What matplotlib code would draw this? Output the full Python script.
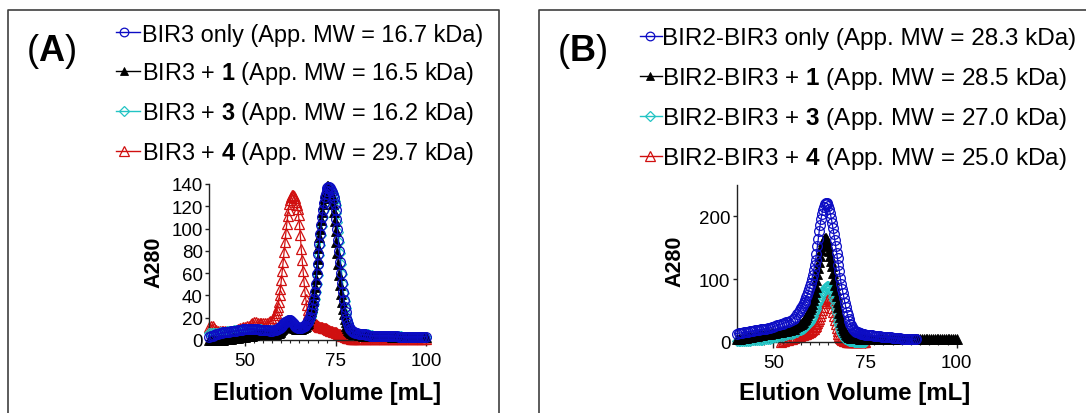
import numpy as np
import matplotlib
matplotlib.use("Agg")
import matplotlib.pyplot as plt
from matplotlib.lines import Line2D

plt.rcParams['font.family'] = ['Liberation Sans', 'DejaVu Sans']
plt.rcParams['mathtext.fontset'] = 'custom'
plt.rcParams['mathtext.rm'] = 'Liberation Sans'
plt.rcParams['mathtext.bf'] = 'Liberation Sans:bold'

nan = np.nan

# ---------------- Data: panel A (BIR3) ----------------
# elution volume grid (mL): coarse on the baseline, fine around the peaks
x_a = list(np.arange(40, 58.01, 0.5)) + list(np.arange(58.25, 80.01, 0.25)) + list(np.arange(80.5, 100.01, 0.5))

a_blue = ([3, 3.5, 4, 4.5, 5, 5.5, 6, 6.5, 7, 7, 7, 7.5, 8, 8, 8, 8.5, 9, 9, 9, 9.5,
           10, 10, 10, 10, 10, 10, 10, 9.5, 9, 9, 9, 9, 9, 9, 8, 8, 9] +
          [9, 9, 9.5, 10, 10.5, 11, 11.5, 12,
           13, 14, 15, 16, 16.5, 17, 17.5, 18,
           18, 18, 17, 16, 15, 14, 13, 12,
           11.5, 11, 11, 11, 11, 11, 11.5, 12,
           12.5, 13, 14, 15, 16, 17, 19, 21,
           24, 28, 32, 37, 43, 50, 59, 68,
           77, 86, 95, 103, 110, 117, 123, 128,
           131, 134, 136, 137, 137, 136, 135, 133,
           130, 127, 122, 117, 109, 100, 90, 80,
           70, 60, 51, 43, 36, 30, 25, 20,
           17, 14, 12, 10, 9, 8, 7.5, 7] +
          [6.5, 6, 5.5, 5, 5, 5, 4.5, 4.5, 4, 4] + [4] * 10 + [3.5] * 4 + [3] * 16)

a_black = ([0, 0, 0, 0, 0, 0, 0, 0, 0, 0.5, 1, 1, 1, 1.5, 2, 2, 2, 2.5, 3, 3,
            3, 3.5, 4, 4, 4, 4.5, 5, 5, 5, 5, 5, 5, 5, 5, 5, 5, 5] +
           [5, 5.5, 6, 6, 6.5, 7, 8, 9,
            10, 11, 12, 13, 14, 15, 15, 16,
            16, 15, 14, 13, 12, 11, 10.5, 10,
            10, 10, 10, 10, 10, 10, 10.5, 11,
            11.5, 12, 13, 14, 15.5, 17, 19.5, 22,
            26, 30, 35, 41, 48, 55, 64, 73,
            83, 92, 100, 108, 115, 122, 127, 132,
            135, 137, 138, 138, 136, 134, 131, 127,
            122, 115, 107, 98, 88, 78, 68, 58,
            49, 41, 34, 28, 23, 19, 16, 13,
            11, 9, 8, 7, 6.5, 6, 5.5, 5] +
           [5, 5, 4.5, 4.5, 4, 4, 4, 4, 4, 4] + [4] * 4 + [3.5] * 6 + [3] * 20)

a_cyan = ([6, 6, 6, 6, 6, 6.5, 7, 7, 7, 7.5, 8, 8, 8, 8.5, 9, 9, 9, 9, 9, 9.5,
           10, 10, 10, 10, 10, 10, 10, 10, 10, 9.5, 9, 9, 9, 9, 9, 9, 9] +
          [9, 9, 9.5, 10, 10.5, 11, 11.5, 12,
           13, 14, 15, 16, 16.5, 17, 17.5, 18,
           18, 18, 17.5, 17, 16, 15, 14, 13,
           12.5, 12, 11.5, 11, 11, 11, 11.5, 12,
           12.5, 13, 13.5, 14, 15, 16, 17.5, 19,
           21, 24, 28, 32, 37, 43, 50, 58,
           67, 76, 85, 94, 102, 110, 117, 123,
           127, 131, 133, 135, 136, 136, 135, 134,
           132, 129, 125, 121, 114, 106, 97, 88,
           78, 68, 59, 50, 42, 35, 29, 23,
           19, 15, 13, 11, 10, 9, 8, 7] +
          [6.5, 6, 5.5, 5, 5, 5, 5, 5, 4.5, 4.5] + [4] * 10 + [3.5] * 6 + [3] * 14)

a_red = ([12, 13, 13, 11, 9, 8.5, 8, 8, 8, 8, 8, 8, 8, 8.5, 9, 9, 10, 10.5, 11, 11.5,
          12, 12.5, 13, 14, 15, 16, 16, 15.5, 15, 15, 15, 15, 15, 16, 17, 18, 20] +
         [22, 24, 27, 30, 34, 40, 46, 54,
          62, 70, 79, 88, 96, 104, 111, 117,
          122, 126, 128, 130, 130, 129, 127, 124,
          121, 118, 112, 104, 94, 82, 72, 62,
          53, 44, 37, 31, 27, 23, 21, 19,
          18, 17, 16, 15, 14.5, 14, 13.5, 13,
          12.5, 12, 12, 12, 11.5, 11, 11, 11,
          10.5, 10, 9.5, 9, 9, 8.5, 8, 8,
          7.5, 7, 7, 7, 6.5, 6, 5.5, 5,
          5, 4.5, 4, 4, 3.5, 3, 3, 2.5,
          2, 2, 1.5, 1.5, 1, 1, 1, 1] +
         [0.5] * 40)

# ---------------- Data: panel B (BIR2-BIR3) ----------------
x_b = list(np.arange(40, 57.01, 0.5)) + list(np.arange(57.25, 75.01, 0.25)) + list(np.arange(75.5, 100.01, 0.5))

b_blue = ([13, 13.5, 14, 14.5, 15, 15.5, 16, 16.5, 17, 17.5, 18, 18.5, 19, 19.5, 20, 20.5,
           21, 21.5, 22, 23, 24, 25, 26, 27, 28, 29, 30, 31, 32, 33.5, 35, 37, 40, 44, 48] +
          [50, 53, 55, 58, 61, 64, 67, 71,
           75, 79, 84, 89, 94, 100, 107, 114,
           122, 130, 140, 152, 164, 176, 186, 196,
           204, 210, 215, 219, 221, 222, 220, 216,
           211, 205, 198, 190, 181, 172, 162, 152,
           142, 133, 122, 112, 102, 92, 84, 77,
           70, 62, 55, 48, 42, 37, 33, 29,
           26, 23, 21, 19, 17.5, 16, 15.5, 15,
           14.5, 14, 13.5, 13, 12.5, 12, 11.5, 11] +
          [10.5, 10, 10, 10, 9.5, 9, 9, 8.5, 8, 8, 7.5, 7, 7, 7, 6.5, 6, 6, 6, 5.5, 5,
           5, 5, 5, 4.5, 4.5, 4, 4, 4] + [nan] * 22)

b_black = ([4, 4.5, 5, 5.5, 6, 6.5, 7, 7.5, 8, 8.5, 9, 9.5, 10, 10.5, 11, 11.5, 12, 12.5,
            13, 13.5, 14, 14.5, 15, 15.5, 16, 16.5, 17, 17.5, 18, 19, 20, 21, 23, 25, 27] +
           [28, 29, 30.5, 32, 34, 36, 38, 40,
            42.5, 45, 48, 52, 56, 60, 66, 72,
            80, 88, 98, 108, 118, 127, 137, 146,
            154, 160, 164, 166, 166, 163, 158, 152,
            145, 137, 129, 120, 110, 100, 91, 82,
            73, 64, 55, 46, 39, 32, 27, 22,
            18, 15, 12, 10, 9, 8, 7.5, 7,
            6.5, 6, 6, 6, 6, 6, 6, 6,
            5.5, 5.5, 5, 5, 5, 5, 5, 5] +
           [5] * 30 + [4.5] * 10 + [4] * 10)

b_cyan = ([1, 1, 1, 1, 1, 1, 1, 1.5, 2, 2, 2, 2.5, 3, 3, 3.5, 4, 4, 4.5, 5, 6,
           7, 7.5, 8, 8.5, 9, 9.5, 10, 11, 12, 12.5, 13, 13.5, 15, 16, 18] +
          [18.5, 19, 20, 21, 22, 23, 24.5, 26,
           27.5, 29, 30.5, 32, 35, 38, 41.5, 45,
           48.5, 52, 56, 60, 63.5, 67, 70.5, 74,
           77, 80, 82.5, 85, 87, 88, 89, 89,
           88, 86, 82, 78, 72, 66, 59, 52,
           45, 38, 32, 26, 21, 16, 12, 9,
           7, 5, 4, 3, 2.5, 2, 1.5, 1,
           1, 0.5, 0.5, 0, 0, 0, 0, 0,
           0, 0, 0, 0, 0, 0, 0, 0] +
          [nan] * 50)

b_red = ([nan] * 24 + [0, 0.5, 1, 2, 3, 4, 5, 5.5, 7, 8, 9] +
         [9.5, 10, 10.5, 11, 11.5, 12, 12.5, 13,
          13.5, 14, 15, 16, 17, 18, 19.5, 21,
          23, 25, 27.5, 30, 33.5, 37, 41, 46,
          51, 56, 61, 65, 68, 71, 72, 72,
          70, 66, 61, 54, 48, 41, 34, 28,
          22, 17, 13, 9, 6, 4, 3, 2,
          1.5, 1, 0.5, 0, 0, 0, 0, 0,
          0, 0, 0, 0, 0, 0, 0, 0,
          0, 0, 0, 0, 0, 0, 0, 0] +
         [nan] * 50)

labels_a = [r'BIR3 only (App. MW = 16.7 kDa)',
            r'BIR3 + $\mathbf{1}$ (App. MW = 16.5 kDa)',
            r'BIR3 + $\mathbf{3}$ (App. MW = 16.2 kDa)',
            r'BIR3 + $\mathbf{4}$ (App. MW = 29.7 kDa)']
labels_b = [r'BIR2-BIR3 only (App. MW = 28.3 kDa)',
            r'BIR2-BIR3 + $\mathbf{1}$ (App. MW = 28.5 kDa)',
            r'BIR2-BIR3 + $\mathbf{3}$ (App. MW = 27.0 kDa)',
            r'BIR2-BIR3 + $\mathbf{4}$ (App. MW = 25.0 kDa)']
xticks = [50, 75, 100]
yticks_a = [0, 20, 40, 60, 80, 100, 120, 140]
yticks_b = [0, 100, 200]

# ---------------- Styles ----------------
BLUE, BLACK, CYAN, RED = '#0c0cc4', '#000000', '#22c4c4', '#d01010'
styles = [
    dict(color=BLUE, marker='o', mfc='none', mec=BLUE, ms=7.0, mew=0.9),
    dict(color=BLACK, marker='^', mfc=BLACK, mec=BLACK, ms=6.6, mew=0.6),
    dict(color=CYAN, marker='D', mfc='none', mec=CYAN, ms=5.6, mew=0.9),
    dict(color=RED, marker='^', mfc='none', mec=RED, ms=7.4, mew=0.9),
]
leg_ms = [6.2, 6.0, 5.0, 6.5]

W, H = 1086, 414
fig = plt.figure(figsize=(W / 100, H / 100), dpi=100)


def fx(px):
    return px / W


def fy(py):
    return 1 - py / H


def panel(ax, x, series, yticks, ymax):
    for i in [3, 2, 1, 0]:
        ax.plot(x, series[i], lw=0.9, zorder=2 + (3 - i), clip_on=False, **styles[i])
    ax.set_xlim(40, 100)
    ax.set_ylim(0, ymax)
    ax.set_xticks(xticks)
    ax.set_xticks(np.arange(40, 100.1, 2.5), minor=True)
    ax.set_yticks(yticks)
    for s in ['top', 'right']:
        ax.spines[s].set_visible(False)
    for s in ['left', 'bottom']:
        ax.spines[s].set_linewidth(1.0)
        ax.spines[s].set_color('#222222')
    ax.tick_params(axis='x', which='major', length=4.5, width=1.0, pad=4.5, labelsize=13.5, color='#222222')
    ax.tick_params(axis='x', which='minor', length=2.5, width=0.8, color='#222222')
    ax.tick_params(axis='y', which='major', length=3, width=1.0, pad=1.5, labelsize=13.5, color='#222222')
    ax.set_facecolor('none')


ax_a = fig.add_axes([fx(209), fy(341), (426 - 209) / W, (341 - 185) / H])
panel(ax_a, x_a, [a_blue, a_black, a_cyan, a_red], yticks_a, 140)
ax_b = fig.add_axes([fx(736.7), fy(342.7), (956.7 - 736.7) / W, (342.7 - 186) / H])
panel(ax_b, x_b, [b_blue, b_black, b_cyan, b_red], yticks_b, 250)

# axis titles
fig.text(fx(327), fy(400), 'Elution Volume [mL]', fontsize=17, fontweight='bold',
         ha='center', va='baseline')
fig.text(fx(855), fy(400), 'Elution Volume [mL]', fontsize=17.3, fontweight='bold',
         ha='center', va='baseline')
fig.text(fx(154), fy(262.5), 'A280', fontsize=15.5, fontweight='bold', rotation=90,
         ha='center', va='center')
fig.text(fx(674.5), fy(261), 'A280', fontsize=15.5, fontweight='bold', rotation=90,
         ha='center', va='center')

# panel letters
fig.text(fx(26), fy(61), r'($\mathbf{A}$)', fontsize=26, ha='left', va='baseline')
fig.text(fx(557), fy(61), r'($\mathbf{B}$)', fontsize=26, ha='left', va='baseline')

# panel frames
fc = '#404040'
for xs, ys in [([8.3, 8.3, 499, 499], [420, 11, 11, 420]),
               ([539, 539, 1090], [420, 11, 11])]:
    fig.add_artist(Line2D([fx(v) for v in xs], [fy(v) for v in ys], color=fc, lw=1.2,
                          transform=fig.transFigure))


# manual legends
def legend(rows, hx0, hx1, hm, tx, labels, fs):
    for i, (y, lab) in enumerate(zip(rows, labels)):
        st = dict(styles[i])
        col = st.pop('color')
        st['ms'] = leg_ms[i]
        fig.add_artist(Line2D([fx(hx0), fx(hx1)], [fy(y), fy(y)], color=col, lw=1.0,
                              transform=fig.transFigure))
        fig.add_artist(Line2D([fx(hm)], [fy(y)], color=col, lw=0, transform=fig.transFigure, **st))
        fig.text(fx(tx), fy(y + fs * 0.497), lab, fontsize=fs, ha='left', va='baseline')


legend([33.3, 71.5, 111.7, 151.7], 116, 140, 124, 141.5, labels_a, 16.9)
legend([36.7, 76.7, 116.7, 156.7], 640, 661.7, 650, 662.5, labels_b, 17.5)

fig.savefig('out.png', dpi=100)
